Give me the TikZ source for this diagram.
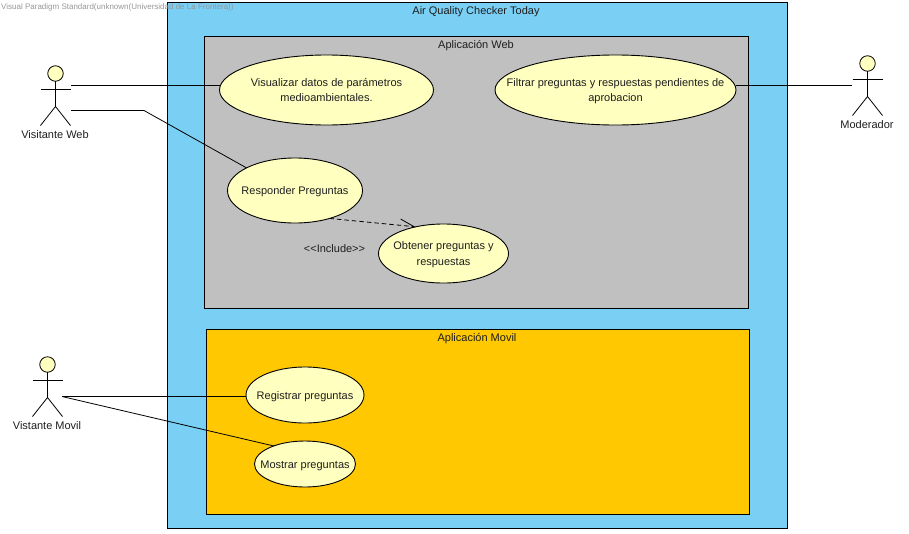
\documentclass[tikz,border=0pt]{standalone}
\usepackage{fontspec}
\setmainfont{Liberation Sans}
\usepackage{tikz}
\usetikzlibrary{shapes.geometric,arrows.meta,positioning,calc}
\definecolor{systemblue}{RGB}{122,207,245}
\definecolor{webgray}{RGB}{192,192,192}
\definecolor{movilorange}{RGB}{255,200,0}
\definecolor{usecaseyellow}{RGB}{255,255,192}
\definecolor{stampgray}{RGB}{150,150,150}
\definecolor{labelblack}{RGB}{30,30,30}
\tikzset{
    usecase/.style={ellipse, draw=black, fill=usecaseyellow, line width=0.9pt, inner sep=0pt, outer sep=0pt, text=labelblack, font=\fontsize{11}{15.5}\selectfont},
    package/.style={rectangle, draw=black, line width=0.9pt, inner sep=0pt, outer sep=0pt, anchor=north west},
    packagetitle/.style={inner sep=0pt, text=labelblack, font=\fontsize{11}{12}\selectfont},
    actorhead/.style={circle, draw=black, fill=usecaseyellow, line width=0.8pt, inner sep=0pt, outer sep=0pt, minimum size=15.5pt},
    actorlabel/.style={inner sep=0pt, text=labelblack, font=\fontsize{11}{12}\selectfont},
    link/.style={draw=black, line width=0.8pt},
}
\newcommand{\casetext}[1]{\makebox[0pt]{\raisebox{-7.5pt}{\smash{\begin{tabular}{@{}c@{}}#1\end{tabular}}}}}
\newcommand{\drawactor}[4]{
    \node[actorhead] (#1) at (#2,#3) {};
    \coordinate (#1hip) at (#2,#3+33);
    \draw[link] (#1.south) -- (#1hip);
    \draw[link] (#2-15,#3+16) -- (#2+15,#3+16);
    \draw[link] (#2-15,#3+52) -- (#1hip) -- (#2+15,#3+52);
    \node[actorlabel] (#1label) at (#2-0.5,#3+61) {#4};
}
\begin{document}
\begin{tikzpicture}[x=1pt,y=-1pt]
            \useasboundingbox (0,0) rectangle (909,533);

            \node[package, fill=systemblue, minimum width=620pt, minimum height=525.5pt] (checker) at (167.5,2.5) {};
            \node[package, fill=webgray, minimum width=544pt, minimum height=272pt] (web) at (204.5,36.5) {};
            \node[package, fill=movilorange, minimum width=543pt, minimum height=185pt] (movil) at (206.5,329.5) {};

            \node[packagetitle] (checkertitle) at (476,12) {Air Quality Checker Today};
            \node[packagetitle] (webtitle) at (476,45.5) {Aplicación Web};
            \node[packagetitle] (moviltitle) at (477,338.5) {Aplicación Movil};

            \node[usecase, minimum width=214pt, minimum height=70pt] (visualizar) at (326.5,90) {\casetext{Visualizar datos de parámetros\\medioambientales.}};
            \node[usecase, minimum width=241pt, minimum height=70pt] (filtrar) at (615.5,90) {\casetext{Filtrar preguntas y respuestas pendientes de\\aprobacion}};
            \node[usecase, minimum width=135pt, minimum height=65pt] (responder) at (295,190.5) {\casetext{Responder Preguntas}};
            \node[usecase, minimum width=130pt, minimum height=59pt] (obtener) at (443.5,253.5) {\casetext{Obtener preguntas y\\respuestas}};
            \node[usecase, minimum width=118pt, minimum height=56pt] (registrar) at (305,395) {\casetext{Registrar preguntas}};
            \node[usecase, minimum width=101pt, minimum height=46pt] (mostrar) at (305,464) {\casetext{Mostrar preguntas}};

            \drawactor{visitanteweb}{55.5}{73.5}{Visitante Web}
            \drawactor{vistantemovil}{47.5}{364.5}{Vistante Movil}
            \drawactor{moderador}{867.5}{63.5}{Moderador}

            \coordinate (webupper) at (71,85.5);
            \coordinate (weblower) at (71,110.5);
            \coordinate (webbend) at (144,110.5);
            \coordinate (movilend) at (62,396.5);
            \coordinate (moderadorend) at (852,85.5);

            \draw[link] (webupper) -- (visualizar.west |- webupper);
            \draw[link] (weblower) -- (webbend) -- (responder.155.5);
            \draw[link] (movilend) -- (registrar.west |- movilend);
            \draw[link] (movilend) -- (mostrar.150);
            \draw[link] (filtrar.east |- moderadorend) -- (moderadorend);
            \draw[link, dash pattern=on 4.5pt off 3pt, -{Straight Barb[left,length=14pt,width=12.5pt]}] (responder.-39.5) -- (obtener.136.8);

            \node[actorlabel] (includelabel) at (334.5,248.5) {{<}{<}Include{>}{>}};
            \node[inner sep=0pt, anchor=west, text=stampgray, font=\fontsize{8}{10}\selectfont] (stamp) at (1,7) {Visual Paradigm Standard(unknown(Universidad de La Frontera))};
        \end{tikzpicture}
\end{document}
